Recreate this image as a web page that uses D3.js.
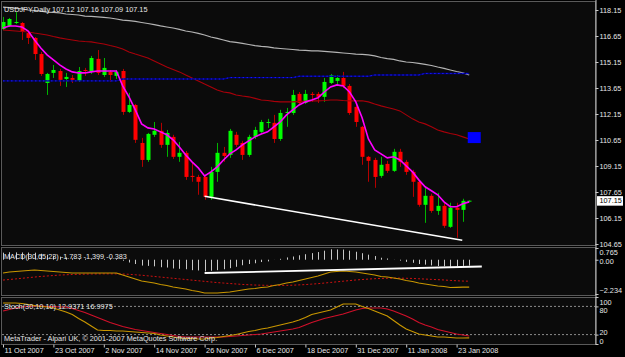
<!DOCTYPE html>
<html><head><meta charset="utf-8">
<script src="https://cdn.jsdelivr.net/npm/d3@7"></script>
<style>
html,body{margin:0;padding:0;background:#000;}
svg{display:block;}
text{font-family:"Liberation Sans",Arial,sans-serif;font-size:7.3px;fill:#e6e6e6;}
</style>
</head><body>
<svg id="c" width="625" height="357"></svg>
<script>
// ---- data ----
const symbol = "USDJPY,Daily";
const lastQuote = [107.12, 107.16, 107.09, 107.15];
const opens = [117.05,117.23,117.40,117.40,116.82,116.54,115.61,113.94,114.52,114.63,
114.17,114.23,114.06,114.69,114.58,115.33,114.40,114.58,114.35,114.63,
112.27,112.67,110.48,109.50,110.95,111.18,110.37,110.83,109.68,109.91,
108.58,108.52,108.52,107.37,108.81,109.91,109.79,110.95,110.48,109.79,
110.83,111.12,111.64,111.64,110.71,112.21,112.21,113.31,112.79,113.31,
113.31,113.14,113.94,114.06,114.23,113.77,112.56,111.41,109.68,109.50,
108.58,109.27,108.87,109.97,109.39,108.81,108.24,106.91,107.43,106.56,
106.85,105.64,106.74,106.62,107.12];
const highs = [117.75,117.69,118.03,117.46,116.94,116.59,115.73,114.52,114.98,114.75,
114.52,114.40,114.86,114.81,115.50,115.84,115.38,114.69,114.69,114.75,
113.37,112.73,110.77,111.06,111.69,111.64,111.23,110.95,110.54,110.02,
109.33,108.64,108.64,109.10,110.48,110.25,111.29,111.12,110.60,110.95,
111.41,111.81,111.87,112.10,112.39,112.50,113.54,113.42,113.54,113.42,
113.42,114.23,114.46,114.40,114.58,113.88,112.67,111.46,109.73,109.62,
109.68,109.45,110.14,110.14,109.50,108.93,108.35,107.95,107.55,107.60,
107.03,107.03,107.03,107.26,107.16];
const lows = [116.99,117.17,117.34,116.42,116.19,115.27,114.35,113.25,114.23,113.77,
113.71,113.94,114.00,114.35,114.46,114.40,114.29,114.00,114.17,112.10,
112.21,110.48,109.10,109.39,110.83,110.20,109.68,109.56,109.39,108.35,
108.24,107.49,107.20,107.20,108.24,109.39,109.62,110.25,109.50,109.68,
110.71,111.06,111.35,110.48,110.60,111.41,112.10,112.67,112.73,112.85,
112.79,112.85,113.88,113.83,113.65,112.10,111.41,109.22,108.24,107.89,
108.47,108.75,108.81,109.10,108.64,107.37,106.80,105.87,106.45,106.33,
105.58,105.58,105.01,105.93,107.09];
const closes = [117.46,117.63,117.46,116.88,116.54,115.61,114.46,114.46,114.69,114.12,
114.29,114.12,114.63,114.63,115.38,114.52,114.81,114.40,114.58,112.27,
112.67,110.66,109.50,111.00,111.18,110.37,111.06,109.68,109.91,108.52,
108.52,108.24,107.37,108.81,109.91,109.73,111.18,110.37,109.79,110.83,
111.23,111.69,111.69,110.71,112.21,112.27,113.25,112.79,113.31,113.25,
113.14,114.00,114.40,114.23,113.77,112.21,111.69,109.68,109.45,108.52,
109.22,108.87,109.97,109.39,108.81,108.24,106.91,107.43,106.56,106.85,
105.70,106.74,106.62,107.14,107.15];
const maFast = [117.11,117.23,117.23,117.17,116.94,116.42,115.96,115.56,115.27,114.98,
114.75,114.58,114.52,114.52,114.58,114.63,114.63,114.63,114.63,113.77,
113.14,112.39,111.58,111.35,111.29,111.12,110.95,110.66,110.25,109.79,
109.39,109.04,108.58,108.81,109.10,109.50,109.85,110.08,110.37,110.60,
110.83,111.00,111.12,111.41,111.69,112.10,112.39,112.67,112.85,112.96,
113.08,113.42,113.71,113.83,113.77,113.42,112.85,111.93,110.71,110.08,
109.85,109.62,109.68,109.50,109.16,108.81,108.35,107.95,107.72,107.49,
107.08,106.80,106.80,106.97,107.08];
const maMid = [117.00,116.97,116.94,116.91,116.88,116.82,116.77,116.71,116.62,116.54,
116.48,116.42,116.36,116.33,116.31,116.25,116.19,116.10,116.02,115.90,
115.73,115.61,115.50,115.38,115.21,115.04,114.86,114.72,114.58,114.40,
114.23,114.06,113.88,113.71,113.54,113.42,113.37,113.25,113.19,113.14,
113.05,112.96,112.93,112.88,112.85,112.85,112.85,112.88,112.88,112.91,
112.91,112.93,112.96,112.96,112.93,112.91,112.91,112.91,112.85,112.73,
112.62,112.53,112.44,112.33,112.10,111.87,111.69,111.58,111.41,111.23,
111.12,111.03,110.95,110.83,110.71];
const maSlow = [118.32,118.29,118.24,118.21,118.15,118.12,118.09,118.03,118.01,117.98,
117.92,117.89,117.86,117.80,117.78,117.75,117.72,117.69,117.63,117.57,
117.54,117.49,117.43,117.37,117.31,117.23,117.17,117.11,117.03,116.94,
116.88,116.80,116.71,116.59,116.51,116.42,116.33,116.28,116.22,116.16,
116.10,116.05,116.02,115.96,115.93,115.90,115.87,115.84,115.82,115.79,
115.79,115.76,115.73,115.70,115.67,115.64,115.61,115.59,115.56,115.50,
115.41,115.35,115.30,115.21,115.15,115.12,115.07,115.01,114.95,114.86,
114.78,114.69,114.60,114.52,114.40];
const maBlue = [114.06,114.06,114.06,114.06,114.06,114.06,114.06,114.06,114.06,114.06,
114.06,114.06,114.06,114.06,114.06,114.06,114.06,114.06,114.06,114.17,
114.17,114.17,114.17,114.17,114.17,114.17,114.17,114.17,114.17,114.17,
114.17,114.17,114.17,114.17,114.17,114.17,114.25,114.25,114.25,114.25,
114.25,114.25,114.25,114.25,114.25,114.25,114.25,114.33,114.33,114.33,
114.33,114.33,114.33,114.33,114.33,114.33,114.33,114.33,114.33,114.40,
114.40,114.40,114.40,114.40,114.40,114.40,114.40,114.49,114.49,114.49,
114.49,114.49,114.49,114.49,114.49];
const trendIdx = [32, 72.9];
const trendPrice = [107.40, 104.87];
const markerIdx = [74.8];
const markerPrice = [110.79];
const priceTicks = [118.15,116.65,115.15,113.65,112.15,110.65,109.15,107.65,106.15,104.65];

const macdMain = [-0.865,-0.800,-0.767,-0.735,-0.702,-0.669,-0.702,-0.735,-0.767,-0.800,
-0.832,-0.865,-0.865,-0.865,-0.865,-0.865,-0.865,-0.865,-0.865,-0.995,
-1.126,-1.256,-1.387,-1.452,-1.517,-1.615,-1.680,-1.778,-1.843,-1.908,
-2.006,-2.071,-2.169,-2.169,-2.169,-2.136,-2.104,-2.038,-1.973,-1.908,
-1.876,-1.811,-1.778,-1.680,-1.615,-1.517,-1.452,-1.354,-1.256,-1.158,
-1.061,-0.930,-0.800,-0.767,-0.735,-0.767,-0.800,-0.865,-0.930,-0.995,
-1.093,-1.126,-1.191,-1.256,-1.354,-1.419,-1.517,-1.582,-1.647,-1.713,
-1.745,-1.811,-1.800,-1.790,-1.783];
const macdSignal = [-1.325,-1.29,-1.25,-1.21,-1.17,-1.13,-1.09,-1.06,-1.03,-1.00,
-0.98,-0.96,-0.95,-0.94,-0.93,-0.925,-0.92,-0.92,-0.92,-0.93,
-0.95,-0.98,-1.01,-1.05,-1.09,-1.13,-1.17,-1.21,-1.25,-1.29,
-1.33,-1.37,-1.41,-1.45,-1.49,-1.52,-1.55,-1.58,-1.61,-1.63,
-1.65,-1.66,-1.67,-1.675,-1.675,-1.67,-1.66,-1.64,-1.62,-1.59,
-1.56,-1.52,-1.48,-1.44,-1.40,-1.36,-1.32,-1.29,-1.26,-1.235,
-1.22,-1.21,-1.20,-1.20,-1.21,-1.22,-1.24,-1.26,-1.28,-1.30,
-1.32,-1.35,-1.37,-1.39,-1.399];
const macdHist = [0.46,0.49,0.48,0.475,0.47,0.46,0.39,0.325,0.26,0.20,
0.15,0.095,0.085,0.075,0.065,0.06,0.055,0.055,0.055,-0.065,
-0.18,-0.28,-0.38,-0.40,-0.43,-0.49,-0.51,-0.57,-0.59,-0.62,
-0.68,-0.70,-0.76,-0.72,-0.68,-0.62,-0.55,-0.46,-0.36,-0.28,
-0.23,-0.15,-0.11,-0.005,0.06,0.15,0.21,0.29,0.36,0.43,
0.50,0.59,0.68,0.67,0.665,0.59,0.52,0.425,0.33,0.24,
0.13,0.08,0.01,-0.056,-0.14,-0.20,-0.28,-0.32,-0.37,-0.41,
-0.425,-0.46,-0.43,-0.40,-0.383];
const macdTrendIdx = [32, 76];
const macdTrendVal = [-0.865, -0.44];
const macdTicks = [0.765, 0.00, -2.234];

const stochMain = [87.2,87.2,87.2,86.2,84.0,81.9,79.8,78.7,76.6,72.3,
68.1,62.8,54.3,46.8,38.3,29.8,28.7,28.7,27.7,27.7,
26.6,25.5,24.5,23.4,22.3,19.1,17.0,14.9,12.8,11.7,
11.7,10.6,10.6,12.8,13.8,16.0,18.1,20.2,23.4,26.6,
28.7,31.9,34.0,37.2,40.4,43.6,46.8,51.1,56.4,62.8,
66.0,69.1,72.3,78.7,85.1,85.1,85.1,79.8,75.5,70.2,
64.9,59.6,50.0,40.4,31.9,26.6,21.3,19.1,17.0,14.9,
14.9,13.8,12.8,12.8,12.9371];
const stochSignal = [70.2,73.4,76.6,78.7,79.8,80.9,80.9,79.8,79.8,78.7,
78.7,75.5,71.3,67.0,61.7,56.4,51.1,45.7,41.5,37.2,
34.0,30.9,28.7,26.6,24.5,22.3,20.2,18.1,16.0,14.9,
14.9,14.9,14.9,14.9,14.9,14.9,16.0,17.0,18.1,19.1,
20.2,21.3,23.4,25.5,27.7,29.8,31.9,35.1,40.4,45.7,
50.0,54.3,57.4,60.6,63.8,68.1,72.3,75.5,76.6,76.6,
76.6,74.5,70.2,64.9,59.6,53.2,45.7,40.4,36.2,30.9,
27.7,24.5,21.3,19.1,16.9975];
const stochLevels = [80, 20];
const stochTicks = [100, 80, 20, 0];

const dateIdx = [0,8,16,24,32,40,48,56,64,72];
const dateLabels = ["11 Oct 2007","23 Oct 2007","2 Nov 2007","14 Nov 2007","26 Nov 2007",
"6 Dec 2007","18 Dec 2007","31 Dec 2007","11 Jan 2008","23 Jan 2008"];

// ---- layout ----
const W = 625, H = 357, AX = 595.5;
const svg = d3.select("#c");
svg.append("rect").attr("width", W).attr("height", H).attr("fill", "#000");

const x = d3.scaleLinear().domain([0, 74]).range([3, 469.2]);
const yP = d3.scaleLinear().domain([104.65, 118.15]).range([244, 10]);
const yM = d3.scaleLinear().domain([-2.234, 0.765]).range([294, 248]);
const yS = d3.scaleLinear().domain([0, 100]).range([344, 297]);

const panels = [[1, 245], [247, 295], [297, 344]];
panels.forEach(p => {
  svg.append("rect").attr("x", 1.5).attr("y", p[0] + 0.5)
    .attr("width", AX - 1.5).attr("height", p[1] - p[0])
    .attr("fill", "#0b0b0b").attr("stroke", "#5a5a5a").attr("stroke-width", 1);
});
const defs = svg.append("defs");
panels.forEach((p, k) => {
  defs.append("clipPath").attr("id", "cp" + k).append("rect")
    .attr("x", 2).attr("y", p[0] + 1).attr("width", AX - 2.5).attr("height", p[1] - p[0] - 1);
});

// ---- main panel ----
const gMain = svg.append("g").attr("clip-path", "url(#cp0)");
const idx = d3.range(opens.length);
const bw = 4;
gMain.selectAll("line.wick").data(idx).join("line")
  .attr("x1", i => Math.round(x(i)) + 0.5).attr("x2", i => Math.round(x(i)) + 0.5)
  .attr("y1", i => yP(highs[i])).attr("y2", i => yP(lows[i]))
  .attr("stroke", i => closes[i] >= opens[i] ? "#00b400" : "#b40000").attr("stroke-width", 1);
gMain.selectAll("rect.body").data(idx).join("rect")
  .attr("x", i => Math.round(x(i)) + 0.5 - bw / 2)
  .attr("y", i => yP(Math.max(opens[i], closes[i])))
  .attr("width", bw)
  .attr("height", i => Math.max(1, yP(Math.min(opens[i], closes[i])) - yP(Math.max(opens[i], closes[i]))))
  .attr("fill", i => closes[i] >= opens[i] ? "#00ff00" : "#ff0000");

const lineP = d3.line().x((d, i) => x(i)).y(d => yP(d));
gMain.append("path").attr("d", lineP(maSlow)).attr("fill", "none").attr("stroke", "#b4b4b4").attr("stroke-width", 1.2);
gMain.append("path").attr("d", lineP(maMid)).attr("fill", "none").attr("stroke", "#a8000a").attr("stroke-width", 1.1);
gMain.append("path").attr("d", lineP(maBlue)).attr("fill", "none").attr("stroke", "#000088").attr("stroke-width", 1.4);
gMain.append("path").attr("d", lineP(maBlue)).attr("fill", "none").attr("stroke", "#1a1aff").attr("stroke-width", 1).attr("stroke-dasharray", "1.5,2.5");
gMain.append("path").attr("d", lineP(maFast)).attr("fill", "none").attr("stroke", "#ff00ff").attr("stroke-width", 1.6);
gMain.append("path")
  .attr("d", d3.line().x(d => x(d[0])).y(d => yP(d[1]))(d3.zip(trendIdx, trendPrice)))
  .attr("stroke", "#ffffff").attr("stroke-width", 1.6).attr("fill", "none");
gMain.selectAll("rect.mk").data(d3.zip(markerIdx, markerPrice)).join("rect")
  .attr("x", d => x(d[0]) - 6.5).attr("y", d => yP(d[1]) - 5.5)
  .attr("width", 13).attr("height", 11).attr("fill", "#0000ff");

svg.append("text").attr("x", 4).attr("y", 12)
  .text(symbol + "  " + lastQuote.map(v => v.toFixed(2)).join(" "));

// price axis
const axP = svg.append("g").attr("transform", `translate(${AX},0)`)
  .call(d3.axisRight(yP).tickValues(priceTicks).tickSize(3).tickFormat(d3.format(".2f")));
axP.select(".domain").attr("stroke", "#c8c8c8").attr("d", "M0.5,0V344.5");
axP.selectAll(".tick line").attr("stroke", "#c8c8c8");
axP.selectAll(".tick text").attr("x", 4).style("font-size", "7.3px").attr("fill", "#e6e6e6")
  .style("font-family", "Liberation Sans");
// current price label
const cp = lastQuote[3];
svg.append("rect").attr("x", AX + 1.5).attr("y", yP(cp) - 4.5).attr("width", 26).attr("height", 9.5)
  .attr("fill", "#ffffff");
svg.append("text").attr("x", AX + 4).attr("y", yP(cp) + 2.8).style("fill", "#000")
  .text(cp.toFixed(2));

// ---- MACD panel ----
const gM = svg.append("g").attr("clip-path", "url(#cp1)");
gM.selectAll("line.h").data(idx).join("line")
  .attr("x1", i => Math.round(x(i)) + 0.5).attr("x2", i => Math.round(x(i)) + 0.5)
  .attr("y1", yM(0)).attr("y2", i => yM(macdHist[i]))
  .attr("stroke", "#c8c8c8").attr("stroke-width", 1);
const lineM = d3.line().x((d, i) => x(i)).y(d => yM(d));
gM.append("path").attr("d", lineM(macdSignal)).attr("fill", "none").attr("stroke", "#d01010").attr("stroke-width", 1).attr("stroke-dasharray", "2,2");
gM.append("path").attr("d", lineM(macdMain)).attr("fill", "none").attr("stroke", "#c89600").attr("stroke-width", 1.2);
gM.append("path").attr("d", d3.line().x(d => x(d[0])).y(d => yM(d[1]))(d3.zip(macdTrendIdx, macdTrendVal)))
  .attr("stroke", "#ffffff").attr("stroke-width", 1.8).attr("fill", "none");
svg.append("text").attr("x", 4).attr("y", 258.5)
  .text(`MACD(30,65,23) ${macdMain[macdMain.length-1].toFixed(3)} ${macdSignal[macdSignal.length-1].toFixed(3)} ${macdHist[macdHist.length-1].toFixed(3)}`);
const axM = svg.append("g").attr("transform", `translate(${AX},0)`)
  .call(d3.axisRight(yM).tickValues(macdTicks).tickSize(3).tickFormat(d => d === 0 ? "0.00" : d3.format(".3f")(d)));
axM.select(".domain").remove();
axM.selectAll(".tick line").attr("stroke", "#c8c8c8");
axM.selectAll(".tick text").attr("x", 4).style("font-size", "7.3px").attr("fill", "#e6e6e6")
  .attr("dy", d => d === macdTicks[0] ? "0.95em" : d === macdTicks[2] ? "-0.25em" : "0.45em");

// ---- Stochastic panel ----
const gS = svg.append("g").attr("clip-path", "url(#cp2)");
gS.selectAll("line.lv").data(stochLevels).join("line")
  .attr("x1", 2).attr("x2", AX).attr("y1", d => yS(d)).attr("y2", d => yS(d))
  .attr("stroke", "#8c8c8c").attr("stroke-width", 1).attr("stroke-dasharray", "2,2");
const lineS = d3.line().x((d, i) => x(i)).y(d => yS(d));
gS.append("path").attr("d", lineS(stochSignal)).attr("fill", "none").attr("stroke", "#d0102a").attr("stroke-width", 1.2);
gS.append("path").attr("d", lineS(stochMain)).attr("fill", "none").attr("stroke", "#c89600").attr("stroke-width", 1.2);
svg.append("text").attr("x", 4).attr("y", 309)
  .text(`Stoch(30,10,10) ${stochMain[stochMain.length-1].toFixed(4)} ${stochSignal[stochSignal.length-1].toFixed(4)}`);
svg.append("text").attr("x", 4).attr("y", 340.5)
  .text("MetaTrader - Alpari UK, \u00a9 2001-2007 MetaQuotes Software Corp.");
const axS = svg.append("g").attr("transform", `translate(${AX},0)`)
  .call(d3.axisRight(yS).tickValues(stochTicks).tickSize(3));
axS.select(".domain").remove();
axS.selectAll(".tick line").attr("stroke", "#c8c8c8");
const stochLabelShift = {100: 7, 80: 5.9, 20: 0.2, 0: -0.3};
axS.selectAll(".tick text").attr("x", 4).style("font-size", "7.3px").attr("fill", "#e6e6e6")
  .attr("dy", 0).attr("y", d => stochLabelShift[d]);

// ---- date axis ----
const axD = svg.append("g").attr("transform", "translate(0,344.5)")
  .call(d3.axisBottom(x).tickValues(dateIdx).tickSize(3).tickFormat((d, i) => dateLabels[i]));
axD.select(".domain").remove();
axD.selectAll(".tick line").attr("stroke", "#c8c8c8");
axD.selectAll(".tick text").attr("text-anchor", "start").attr("x", 1).attr("y", 3)
  .style("font-size", "7.3px").attr("fill", "#e6e6e6");
</script>
</body></html>
